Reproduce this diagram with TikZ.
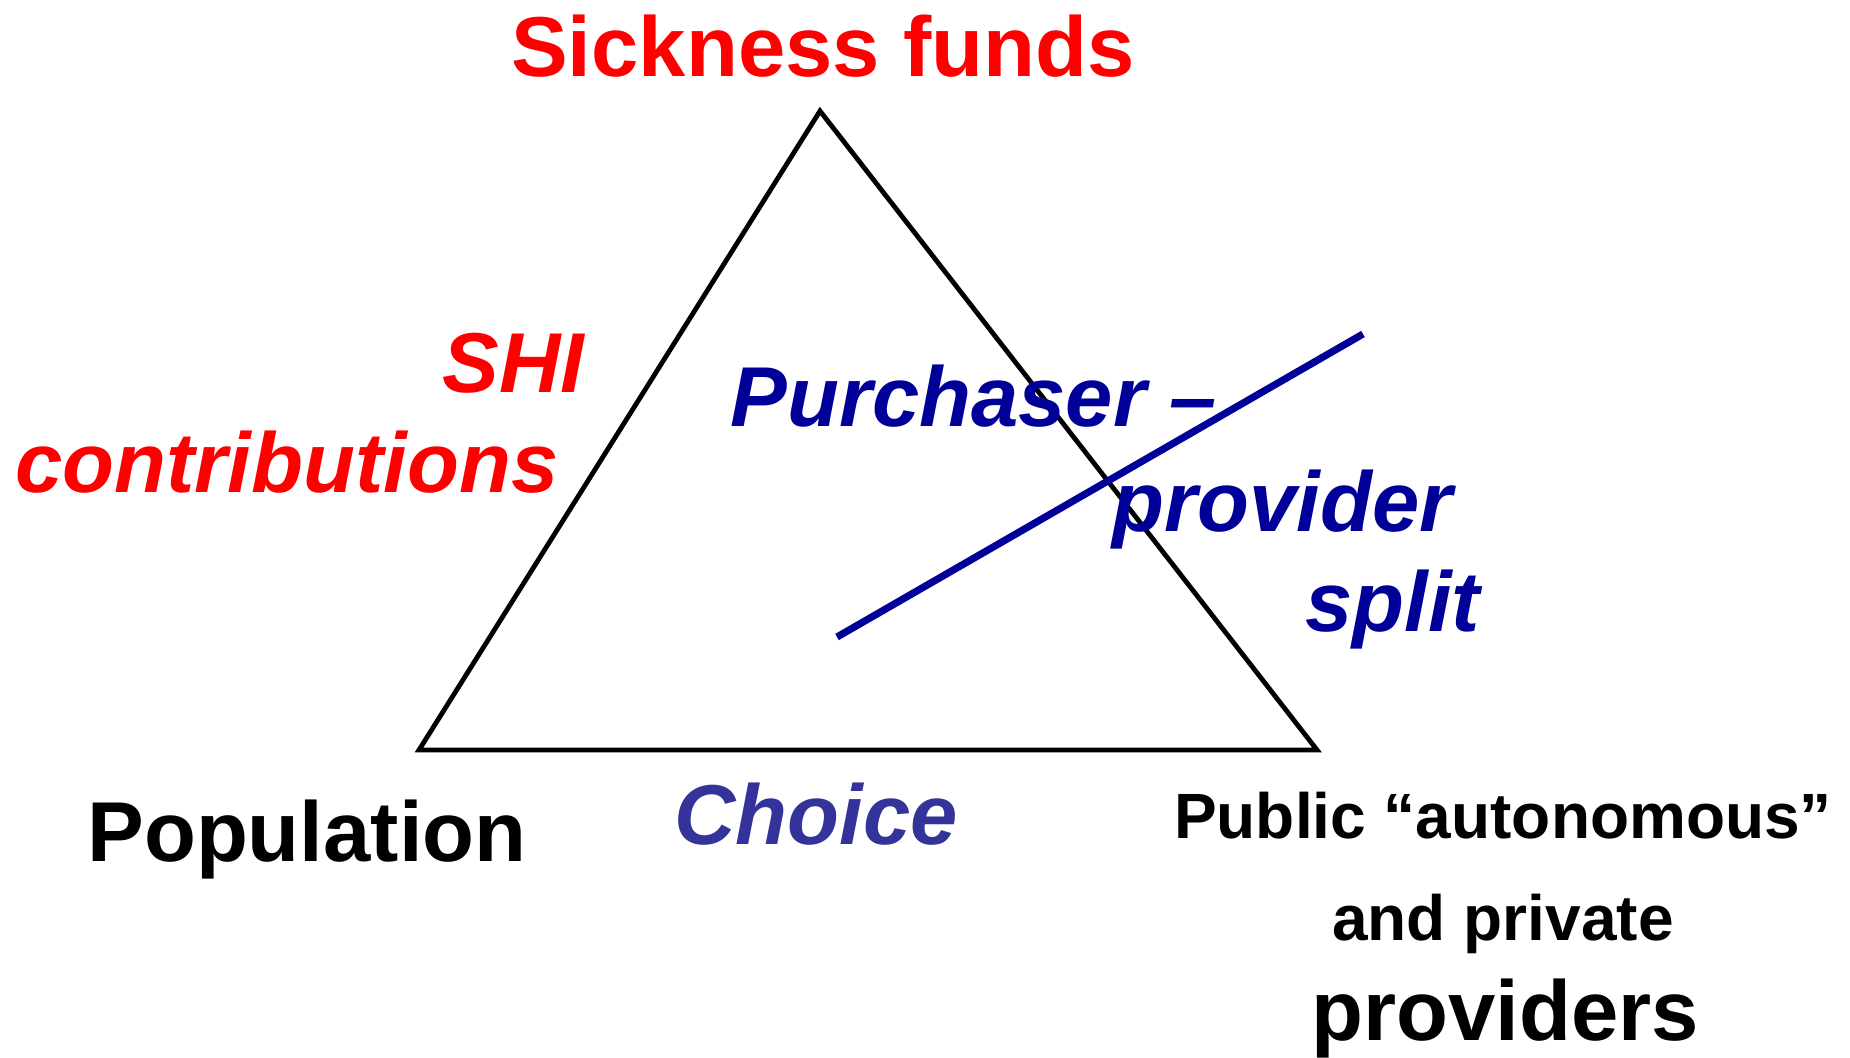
\documentclass[tikz,border=0pt]{standalone}
\usepackage{fontspec}
\setmainfont{Liberation Sans}
\usetikzlibrary{calc,positioning}

\definecolor{shired}{RGB}{255,0,0}
\definecolor{splitblue}{RGB}{0,0,153}
\definecolor{choiceblue}{RGB}{51,51,153}

\begin{document}
\begin{tikzpicture}[x=0.5pt,y=-0.5pt,inner sep=0pt,
  big/.style={font=\fontsize{42.5}{51}\selectfont\bfseries},
  small/.style={font=\fontsize{32}{38}\selectfont\bfseries},
  bigit/.style={font=\fontsize{42.5}{51}\selectfont\bfseries\itshape}]
\useasboundingbox (0,0) rectangle (1850,1058);

\coordinate (apex) at (820,111);
\coordinate (bl) at (419,750);
\coordinate (br) at (1317,750);
\draw [black,line width=2.4pt] (bl) -- (apex) -- (br) -- cycle;

\coordinate (cutlow) at (837,637);
\coordinate (cuthigh) at (1363,334);
\draw [splitblue,line width=3.6pt] (cutlow) -- (cuthigh);

\node (sick) at (823,77) [anchor=base,big,text=shired] {Sickness funds};
\node (shi) at (442,393) [anchor=base west,bigit,text=shired] {SHI};
\node (contrib) at (15,492) [anchor=base west,bigit,text=shired] {contributions};

\node (purch) at (730,427) [anchor=base west,bigit,text=splitblue] {Purchaser --};
\node (prov) at (1112,531) [anchor=base west,bigit,text=splitblue] {provider};
\node (split) at (1305,631) [anchor=base west,bigit,text=splitblue] {split};

\node (pop) at (87,861) [anchor=base west,big] {Population};
\node (choice) at (674,844) [anchor=base west,bigit,text=choiceblue] {Choice};

\node (pub) at (1503,838) [anchor=base,small] {Public “autonomous”};
\node (andpriv) at (1503,940) [anchor=base,small] {and private};
\node (provs) at (1505,1040) [anchor=base,big] {providers};

\end{tikzpicture}
\end{document}
